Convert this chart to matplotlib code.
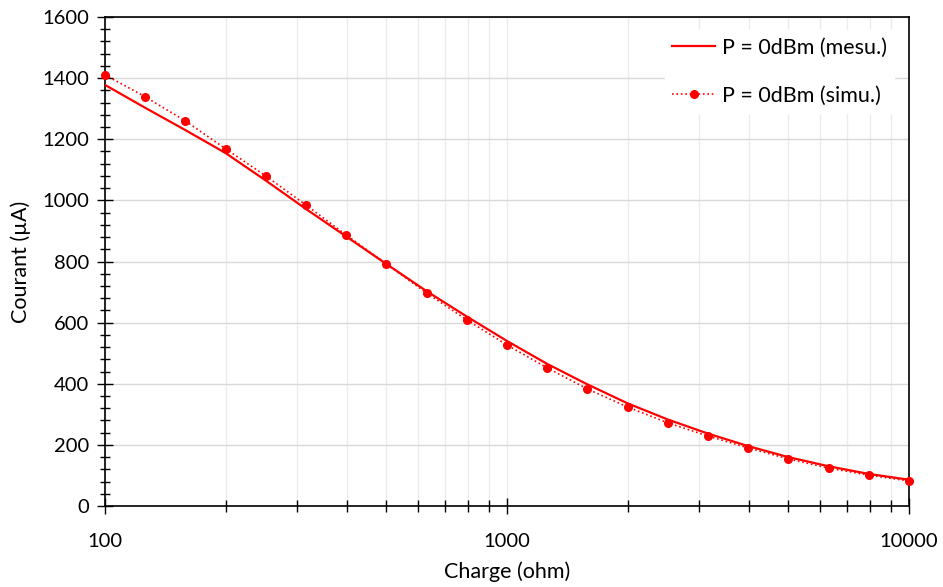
import numpy as np
import matplotlib.pyplot as plt
from matplotlib.ticker import MultipleLocator, LogLocator, NullFormatter, FixedLocator

plt.rcParams['font.family'] = ['Lato', 'DejaVu Sans']

charge = [100, 125.9, 158.5, 199.5, 251.2, 316.2, 398.1, 501.2, 631.0, 794.3,
          1000, 1259, 1585, 1995, 2512, 3162, 3981, 5012, 6310, 7943, 10000]
courant_mesu = [1378, 1303, 1230, 1155, 1065, 972, 882, 792, 703, 620,
                540, 465, 398, 336, 283, 237, 196, 160, 130, 105, 86]
courant_simu = [1411, 1339, 1260, 1169, 1080, 985, 887, 792, 697, 609,
                527, 452, 383, 324, 272, 229, 190, 154, 124, 101, 82]

fig = plt.figure(figsize=(9.43, 5.87), dpi=100)
ax = fig.add_axes([0.1113, 0.138, 0.8526, 0.833])

ax.plot(charge, courant_mesu, '-', color='#ff0000', lw=1.6, label='P = 0dBm (mesu.)', zorder=3)
ax.plot(charge, courant_simu, ':', color='#ff0000', lw=1.2, marker='o', ms=5.5,
        label='P = 0dBm (simu.)', zorder=3, clip_on=False)

ax.set_xscale('log')
ax.set_xlim(100, 10000)
ax.set_ylim(0, 1600)
ax.xaxis.set_major_locator(FixedLocator([100, 1000, 10000]))
ax.xaxis.set_major_formatter(plt.FuncFormatter(lambda v, p: f'{v:.0f}'))
ax.xaxis.set_minor_locator(LogLocator(base=10, subs=np.arange(2, 10)))
ax.xaxis.set_minor_formatter(NullFormatter())
ax.yaxis.set_major_locator(MultipleLocator(200))
ax.yaxis.set_minor_locator(MultipleLocator(40))

ax.grid(True, which='major', axis='y', color='#d9d9d9', lw=1)
ax.grid(True, which='both', axis='x', color='#ececec', lw=1)
ax.set_axisbelow(True)

ax.tick_params(which='major', direction='inout', length=11, width=1, labelsize=14.5)
ax.tick_params(axis='y', which='major', pad=6)
ax.tick_params(axis='x', which='major', pad=14)
ax.tick_params(which='minor', direction='inout', length=7, width=1)
ax.tick_params(axis='x', which='minor', length=9)
for s in ax.spines.values():
    s.set_color('black')
    s.set_linewidth(1.2)

ax.set_xlabel('Charge (ohm)', fontsize=15.5, labelpad=8)
ax.set_ylabel('Courant (µA)', fontsize=15.5, labelpad=8)

leg = ax.legend(loc='upper right', fontsize=15.5, frameon=True, labelspacing=1.3,
                handlelength=2.0, handletextpad=0.3, borderpad=0.35,
                bbox_to_anchor=(0.995, 0.995))
leg.get_frame().set_facecolor('white')
leg.get_frame().set_edgecolor('white')
leg.get_frame().set_alpha(1)
leg.get_frame().set_boxstyle('square', pad=0)

fig.savefig('out.png', dpi=100)
